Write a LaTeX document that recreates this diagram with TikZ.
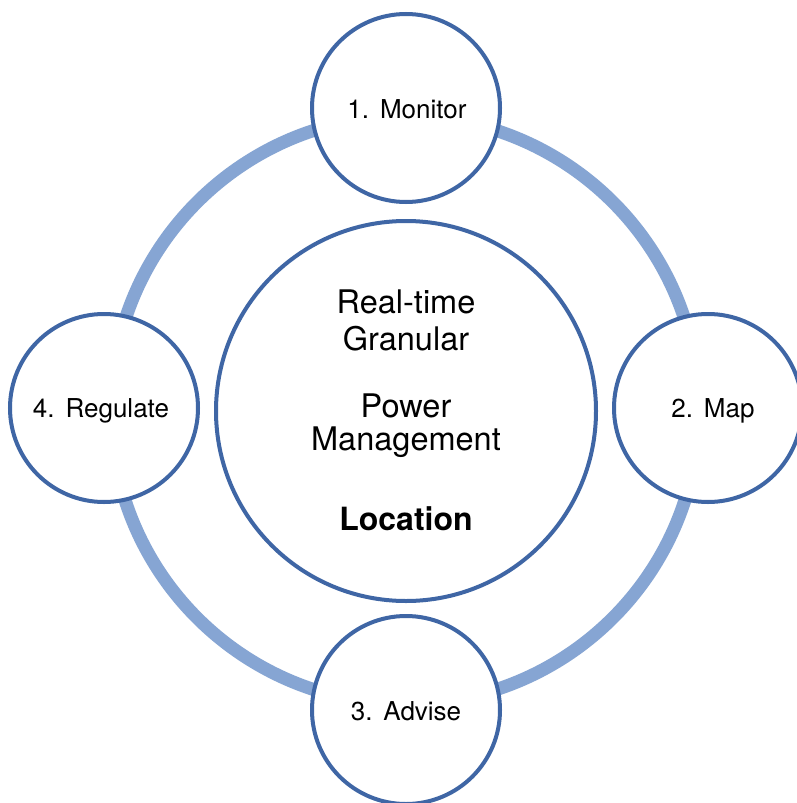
\documentclass[tikz,border=0pt]{standalone}
\usepackage{fontspec}
\setmainfont{TeX Gyre Heros}
\definecolor{ringblue}{HTML}{86A5D3}
\definecolor{edgeblue}{HTML}{3F66A5}
\tikzset{
  stage/.style={circle, draw=edgeblue, line width=4pt, fill=white,
    minimum size=188pt, inner sep=0pt},
  hub/.style={circle, draw=edgeblue, line width=4pt, fill=white,
    minimum size=380pt, inner sep=0pt},
  stagetext/.style={anchor=base, inner sep=0pt,
    font=\fontsize{26}{30}\selectfont},
  hubtext/.style={anchor=base, inner sep=0pt,
    font=\fontsize{32.5}{38}\selectfont},
}
\newcommand{\stepgap}{\hspace{0.42em}}
\begin{document}
\begin{tikzpicture}[x=1pt, y=-1pt]
  \useasboundingbox (0,0) rectangle (797,803);
  \fill[white] (0,0) rectangle (797,803);
  \begin{scope}
    \clip (0,0) rectangle (797,803);
    % outer cycle ring
    \coordinate (mid) at (405,410);
    \draw[ringblue, line width=13pt] (mid) circle[radius=294];
    % central hub
    \node[hub] (hub) at (406,411) {};
    % the four stages
    \node[stage] (monitor) at (406,108) {};
    \node[stage] (map) at (708,408) {};
    \node[stage] (advise) at (406,710) {};
    \node[stage] (regulate) at (104,408) {};
  \end{scope}
  % stage labels
  \node[stagetext] (tmonitor) at (407,118) {1.\stepgap Monitor};
  \node[stagetext] (tmap) at (713,417) {2.\stepgap Map};
  \node[stagetext] (tadvise) at (406,720) {3.\stepgap Advise};
  \node[stagetext] (tregulate) at (101,417) {4.\stepgap Regulate};
  % hub labels
  \node[hubtext] (l1) at (406,313) {Real-time};
  \node[hubtext] (l2) at (406,350) {Granular};
  \node[hubtext] (l3) at (406,417) {Power};
  \node[hubtext] (l4) at (406,450) {Management};
  \node[hubtext, font=\fontsize{32}{38}\selectfont\bfseries] (l5) at (406,530) {Location};
\end{tikzpicture}
\end{document}
